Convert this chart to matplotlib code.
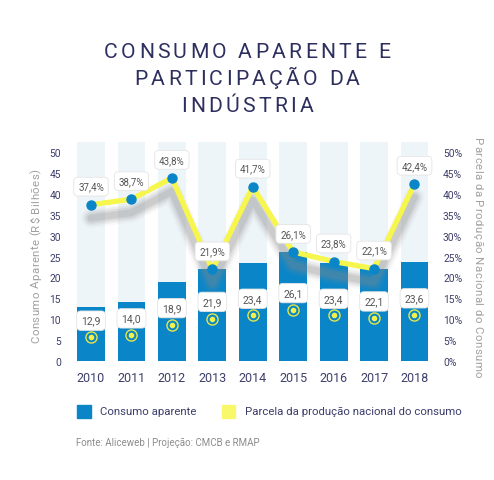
import matplotlib
matplotlib.use('Agg')
import matplotlib.pyplot as plt
from matplotlib.patches import Rectangle
import numpy as np

# data
years = ['2010', '2011', '2012', '2013', '2014', '2015', '2016', '2017', '2018']
consumo = [12.9, 14.0, 18.9, 21.9, 23.4, 26.1, 23.4, 22.1, 23.6]
parcela = [37.4, 38.7, 43.8, 21.9, 41.7, 26.1, 23.8, 22.1, 42.4]
left_ticks = [0, 5, 10, 15, 20, 25, 30, 35, 40, 45, 50]
right_ticks = ['0%', '5%', '10%', '15%', '20%', '25%', '30%', '35%', '40%', '45%', '50%']
title_lines = ['CONSUMO APARENTE E', 'PARTICIPAÇÃO DA', 'INDÚSTRIA']

plt.rcParams['font.family'] = ['Roboto', 'DejaVu Sans']

W, H = 494, 481
fig = plt.figure(figsize=(W / 100, H / 100), dpi=100)
fig.patch.set_facecolor('white')

navy = '#2d2f5e'
blue = '#0a86c8'
yellow = '#f6f64c'


def tracked_text(s, xc, yc, size, color, track=None, length=None, rotation=0):
    # matplotlib has no letter spacing, so place each character by hand.
    # (xc, yc) in pixels from top-left: centre of the line along its direction,
    # baseline position across it.
    r = fig.canvas.get_renderer()
    tmp = fig.text(0, 0, '|', fontsize=size)
    bar_w = tmp.get_window_extent(r).width

    def adv(sub):
        tmp.set_text(sub + '|')
        return tmp.get_window_extent(r).width - bar_w

    natural = adv(s)
    if length is not None:
        track = (length - natural) / (len(s) - 1)
    total = natural + track * (len(s) - 1)
    for i, ch in enumerate(s):
        if ch == ' ':
            continue
        d = adv(s[:i]) + track * i - total / 2
        if rotation == 0:
            px, py = xc + d, yc
        elif rotation == 90:
            px, py = xc, yc - d
        else:
            px, py = xc, yc + d
        fig.text(px / W, 1 - py / H, ch, fontsize=size, color=color, ha='left',
                 va='baseline', rotation=rotation, rotation_mode='anchor')
    tmp.remove()
    return track


tr = tracked_text(title_lines[0], W / 2, 58, 15.2, navy, length=286)
for k, line in enumerate(title_lines[1:], start=1):
    tracked_text(line, W / 2, 58 + 27 * k, 15.2, navy, track=tr)

ax = fig.add_axes([70.8 / W, 1 - 362 / H, (434.7 - 70.8) / W, (362 - 143) / H])
x = np.arange(len(years))
ymax = 52.4
ax.bar(x, [ymax] * len(x), width=0.69, color='#eef5f9', zorder=1)
ax.bar(x, consumo, width=0.69, color=blue, zorder=2)

# soft grey shadow under the share line
p = np.array(parcela)
for lw, a in [(14, 0.06), (11, 0.1), (8, 0.15), (5, 0.2)]:
    ax.plot(x, p - 3.2, color='#8a8a8a', lw=lw, alpha=a, zorder=3,
            solid_capstyle='round', solid_joinstyle='round')
ax.plot(x, p, color=yellow, lw=3.8, zorder=4)
ax.plot(x, p, 'o', color=blue, ms=6.5, zorder=6)

box = dict(boxstyle='round,pad=0.45,rounding_size=0.4', fc='white', ec='#e4e4e4', lw=0.6)
for i, v in enumerate(consumo):
    ax.plot(i, v / 2 - 0.8, 'o', ms=8, mfc='none', mec='#e6e64a', mew=1.0, zorder=5)
    ax.plot(i, v / 2 - 0.8, 'o', ms=3, color='#f2f24a', zorder=5)
    ax.annotate(f'{v:.1f}'.replace('.', ','), (i, v / 2 + 3.2), ha='center', va='center',
                fontsize=7.5, color='#555555', bbox=box, zorder=7)

for i, v in enumerate(parcela):
    ax.annotate(f'{v:.1f}%'.replace('.', ','), (i, v), xytext=(0, 13),
                textcoords='offset points', ha='center', va='center',
                fontsize=7, color='#555555', bbox=box, zorder=7)

ax.set_xlim(-0.5, len(x) - 0.5)
ax.set_ylim(0, ymax)
ax.set_yticks(left_ticks)
ax.set_xticks(x)
ax.set_xticklabels(years)
ax.tick_params(axis='y', length=0, labelsize=7.4, colors='#3d3f6b', pad=7)
ax.tick_params(axis='x', length=0, labelsize=9, colors='#3d3f6b', pad=7)
for s in ax.spines.values():
    s.set_visible(False)

ax2 = ax.twinx()
ax2.set_ylim(0, ymax)
ax2.set_yticks(left_ticks)
ax2.set_yticklabels(right_ticks)
ax2.tick_params(axis='y', length=0, labelsize=7.4, colors='#3d3f6b', pad=6)
for s in ax2.spines.values():
    s.set_visible(False)

tracked_text('Consumo Aparente (R$ Bilhões)', 39, 256, 8.2, '#a0a0a0', length=174, rotation=90)
tracked_text('Parcela da Produção Nacional do Consumo', 474, 258, 8.2, '#a0a0a0',
             length=240, rotation=270)

# legend
fig.patches.append(Rectangle((77 / W, 1 - 419 / H), 14 / W, 13 / H,
                             transform=fig.transFigure, color=blue))
fig.text(100 / W, 1 - 412 / H, 'Consumo aparente', fontsize=8.2, color='#3b3d6b', va='center')
fig.patches.append(Rectangle((222 / W, 1 - 419 / H), 13 / W, 13 / H,
                             transform=fig.transFigure, color='#f8f86a'))
fig.text(245 / W, 1 - 412 / H, 'Parcela da produção nacional do consumo', fontsize=8.2,
         color='#3b3d6b', va='center')

fig.text(76 / W, 1 - 443 / H, 'Fonte: Aliceweb | Projeção: CMCB e RMAP', fontsize=7,
         color='#8c8c8c', va='center')

fig.savefig('out.png', dpi=100, facecolor='white')
